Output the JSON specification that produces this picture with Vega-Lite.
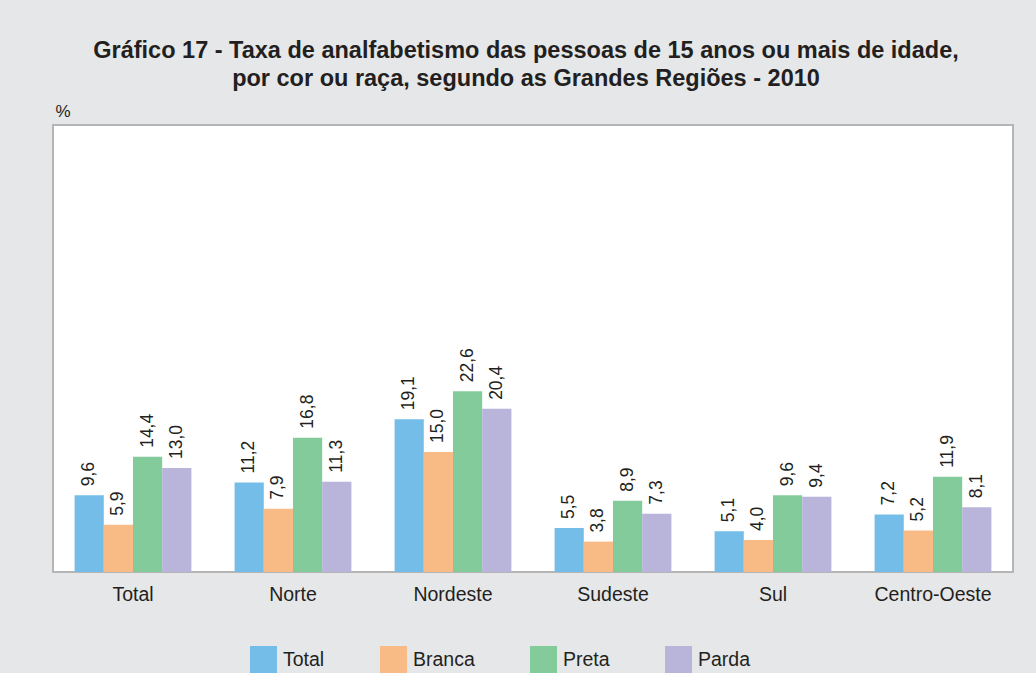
{
  "$schema": "https://vega.github.io/schema/vega-lite/v6.json",
  "autosize": "none",
  "width": 960,
  "height": 447,
  "padding": {"left": 53, "top": 125, "right": 23, "bottom": 101},
  "background": "#e6e7e9",
  "title": {
    "text": ["Gráfico 17 - Taxa de analfabetismo das pessoas de 15 anos ou mais de idade,", "por cor ou raça, segundo as Grandes Regiões - 2010"],
    "font": "Liberation Sans",
    "fontSize": 23.5,
    "fontWeight": "bold",
    "color": "#231f20",
    "lineHeight": 28,
    "anchor": "middle",
    "frame": "group",
    "dx": -7,
    "offset": 12
  },
  "config": {
    "locale": {"number": {"decimal": ",", "thousands": ".", "grouping": [3], "currency": ["R$", ""]}},
    "view": {"stroke": "#b5b5b5", "strokeWidth": 2, "fill": "white"},
    "font": "Liberation Sans"
  },
  "data": {
    "values": [
      {"regiao": "Total", "cor": "Total", "taxa": 9.6},
      {"regiao": "Total", "cor": "Branca", "taxa": 5.9},
      {"regiao": "Total", "cor": "Preta", "taxa": 14.4},
      {"regiao": "Total", "cor": "Parda", "taxa": 13.0},
      {"regiao": "Norte", "cor": "Total", "taxa": 11.2},
      {"regiao": "Norte", "cor": "Branca", "taxa": 7.9},
      {"regiao": "Norte", "cor": "Preta", "taxa": 16.8},
      {"regiao": "Norte", "cor": "Parda", "taxa": 11.3},
      {"regiao": "Nordeste", "cor": "Total", "taxa": 19.1},
      {"regiao": "Nordeste", "cor": "Branca", "taxa": 15.0},
      {"regiao": "Nordeste", "cor": "Preta", "taxa": 22.6},
      {"regiao": "Nordeste", "cor": "Parda", "taxa": 20.4},
      {"regiao": "Sudeste", "cor": "Total", "taxa": 5.5},
      {"regiao": "Sudeste", "cor": "Branca", "taxa": 3.8},
      {"regiao": "Sudeste", "cor": "Preta", "taxa": 8.9},
      {"regiao": "Sudeste", "cor": "Parda", "taxa": 7.3},
      {"regiao": "Sul", "cor": "Total", "taxa": 5.1},
      {"regiao": "Sul", "cor": "Branca", "taxa": 4.0},
      {"regiao": "Sul", "cor": "Preta", "taxa": 9.6},
      {"regiao": "Sul", "cor": "Parda", "taxa": 9.4},
      {"regiao": "Centro-Oeste", "cor": "Total", "taxa": 7.2},
      {"regiao": "Centro-Oeste", "cor": "Branca", "taxa": 5.2},
      {"regiao": "Centro-Oeste", "cor": "Preta", "taxa": 11.9},
      {"regiao": "Centro-Oeste", "cor": "Parda", "taxa": 8.1}
    ]
  },
  "encoding": {
    "x": {
      "field": "regiao", "type": "nominal",
      "sort": ["Total", "Norte", "Nordeste", "Sudeste", "Sul", "Centro-Oeste"],
      "scale": {"paddingInner": 0.27, "paddingOuter": 0.135},
      "axis": {"title": null, "labelAngle": 0, "ticks": false, "domain": false, "labelFontSize": 19.5, "labelColor": "#231f20", "labelPadding": 13}
    },
    "xOffset": {"field": "cor", "type": "nominal", "sort": ["Total", "Branca", "Preta", "Parda"]},
    "y": {
      "field": "taxa", "type": "quantitative",
      "scale": {"domain": [0, 55.9], "nice": false, "zero": true},
      "axis": {"title": "%", "titleAngle": 0, "titleAlign": "left", "titleBaseline": "alphabetic", "titleX": 2, "titleY": -9, "titleFontSize": 17, "titleFontWeight": "normal", "titleColor": "#231f20", "labels": false, "ticks": false, "grid": false, "domain": false}
    }
  },
  "layer": [
    {
      "mark": {"type": "bar"},
      "encoding": {
        "color": {
          "field": "cor", "type": "nominal",
          "sort": ["Total", "Branca", "Preta", "Parda"],
          "scale": {"domain": ["Total", "Branca", "Preta", "Parda"], "range": ["#74bde8", "#f9bb85", "#83cb9b", "#b9b5da"]},
          "legend": {
            "title": null, "orient": "none", "direction": "horizontal",
            "legendX": 197, "legendY": 521,
            "symbolType": "square", "symbolSize": 729, "symbolStrokeWidth": 0, "symbolOpacity": 1,
            "labelFontSize": 19.5, "labelColor": "#231f20", "labelOffset": 6, "columnPadding": 55
          }
        }
      }
    },
    {
      "mark": {"type": "text", "angle": -90, "align": "left", "baseline": "middle", "dx": 9, "fontSize": 17.5, "color": "#231f20"},
      "encoding": {
        "text": {"field": "taxa", "type": "quantitative", "format": ".1f"}
      }
    }
  ]
}
